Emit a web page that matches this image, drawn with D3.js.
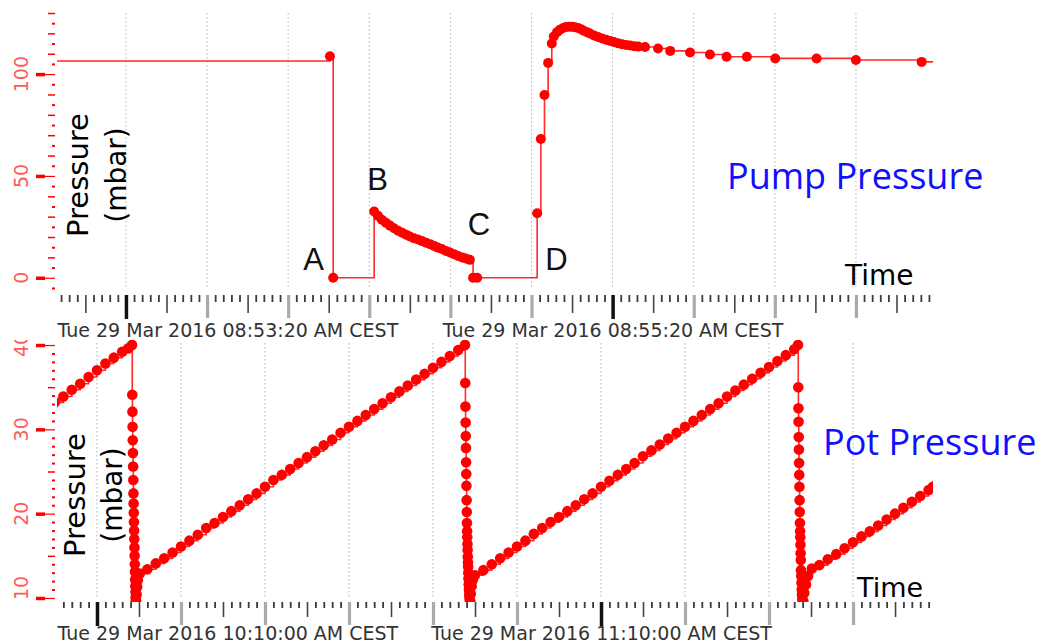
<!DOCTYPE html>
<html><head><meta charset="utf-8">
<script src="https://cdn.jsdelivr.net/npm/d3@7"></script>
<style>body{margin:0;background:#fff;} svg{display:block;}</style>
</head><body><svg id="chart" width="1041" height="644"></svg>
<script>
// ---------- DATA ----------
// Pump pressure: seconds after 08:53:00 (Tue 29 Mar 2016), value in mbar
const pumpSeconds = [0.0, 70.3, 71.1, 81.2, 82.1, 83.1, 84.1, 85.1, 86.1, 87.1, 88.1, 89.1, 90.0, 91.0, 92.0, 93.0, 94.0, 95.0, 96.0, 96.9, 97.9, 98.9, 99.9, 100.9, 101.9, 102.9, 103.8, 104.8, 105.6, 106.6,
  121.4, 122.3, 123.2, 124.1, 125.0, 125.5, 126.3, 127.0, 127.8, 128.5, 129.2, 130.0, 130.7, 131.5, 132.2, 132.9, 133.7, 134.4, 135.4, 136.4, 137.4, 138.4, 139.4, 140.3, 141.3, 142.3, 143.3, 144.3, 145.3, 146.3,
  148.0, 151.2, 154.2, 159.1, 164.0, 168.1, 173.1, 180.1, 190.3, 200.0, 216.2, 222.0];
const pumpValues = [106.4, 108.8, 0, 32.5, 30.5, 28.5, 27.0, 25.6, 24.3, 23.1, 22.1, 21.1, 20.3, 19.4, 18.8, 18.0, 17.2, 16.5, 15.6, 14.8, 14.1, 13.2, 12.4, 11.6, 10.7, 10.0, 9.5, 8.8, 0, 0,
  31.7, 68.1, 89.7, 105.5, 115.0, 118.5, 120.6, 121.8, 122.6, 123.1, 123.3, 123.2, 123.0, 122.6, 122.0, 121.3, 120.6, 119.9, 119.0, 118.2, 117.5, 116.9, 116.3, 115.8, 115.2, 114.7, 114.3, 114.0, 113.7, 113.5,
  113.3, 112.6, 111.4, 110.6, 109.6, 108.5, 108.5, 107.7, 107.7, 106.9, 106.0, 106.0];

// Pot pressure: minutes after 10:00:00 (Tue 29 Mar 2016), value in mbar
const potMinutes = [5.0, 6.0, 7.0, 8.0, 9.0, 10.0, 11.0, 12.0, 13.0, 13.7, 14.17,
  14.20, 14.22, 14.24, 14.26, 14.28, 14.30, 14.32, 14.34, 14.36, 14.38, 14.40, 14.42, 14.44, 14.46, 14.48, 14.50, 14.52, 14.54, 14.56, 14.58, 14.60, 14.62, 14.66, 14.72, 14.78, 14.86,
  15.1, 16, 17, 18, 19, 20, 21, 22, 23, 24, 25, 26, 27, 28, 29, 30, 31, 32, 33, 34, 35, 36, 37, 38, 39, 40, 41, 42, 43, 44, 45, 46, 47, 48, 49, 50, 51, 52, 53, 53.81,
  53.84, 53.86, 53.88, 53.90, 53.92, 53.94, 53.96, 53.98, 54.00, 54.02, 54.04, 54.06, 54.08, 54.10, 54.12, 54.14, 54.16, 54.18, 54.20, 54.22, 54.25, 54.28, 54.31, 54.34, 54.38, 54.44, 54.50, 54.60, 54.72,
  55, 56, 57, 58, 59, 60, 61, 62, 63, 64, 65, 66, 67, 68, 69, 70, 71, 72, 73, 74, 75, 76, 77, 78, 79, 80, 81, 82, 83, 84, 85, 86, 87, 88, 89, 90, 91, 92, 93, 93.45,
  93.48, 93.50, 93.52, 93.54, 93.56, 93.58, 93.60, 93.62, 93.64, 93.66, 93.68, 93.70, 93.72, 93.74, 93.76, 93.78, 93.80, 93.83, 93.86, 93.89, 93.92, 93.96, 94.00, 94.08, 94.20, 94.40, 94.65,
  95.1, 96, 97, 98, 99, 100, 101, 102, 103, 104, 105, 106, 107, 108, 109, 109.5, 110.0];
const potValues = [33.2, 33.9, 34.7, 35.4, 36.2, 37.0, 37.8, 38.5, 39.2, 39.6, 40.0,
  34.1, 32.1, 30.3, 28.7, 27.2, 25.6, 24.0, 22.4, 21.2, 20.1, 19.0, 18.0, 17.0, 16.0, 15.0, 14.0, 13.1, 12.2, 11.4, 10.7, 10.1, 9.7, 9.6, 10.4, 11.3, 12.1,
  12.9, 13.4, 14.1, 14.7, 15.4, 16.1, 16.8, 17.5, 18.3, 18.9, 19.6, 20.3, 21.0, 21.7, 22.4, 23.2, 24.0, 24.6, 25.3, 26.0, 26.7, 27.4, 28.1, 28.8, 29.6, 30.3, 31.0, 31.7, 32.4, 33.1, 33.8, 34.5, 35.2, 35.9, 36.6, 37.3, 38.0, 38.7, 39.4, 40.0,
  35.5, 32.7, 30.8, 29.2, 27.8, 26.1, 24.7, 23.3, 21.6, 20.2, 18.9, 17.9, 17.2, 16.4, 15.7, 14.9, 14.2, 13.7, 13.0, 12.3, 11.6, 11.0, 10.4, 10.0, 9.6, 9.6, 10.5, 11.4, 12.1,
  12.7, 13.3, 14.0, 14.7, 15.4, 16.1, 16.8, 17.6, 18.3, 19.0, 19.6, 20.3, 21.0, 21.7, 22.4, 23.2, 23.9, 24.6, 25.3, 26.0, 26.8, 27.5, 28.2, 28.9, 29.6, 30.3, 31.0, 31.7, 32.4, 33.1, 33.9, 34.6, 35.3, 36.0, 36.7, 37.4, 38.1, 38.8, 39.5, 40.0,
  35.0, 32.5, 30.9, 29.1, 27.6, 26.0, 24.6, 23.2, 21.6, 20.2, 18.9, 17.9, 17.2, 16.3, 15.3, 14.5, 13.3, 12.6, 11.8, 11.0, 10.4, 9.9, 9.6, 9.6, 10.6, 11.6, 12.6,
  13.5, 13.9, 14.6, 15.2, 15.9, 16.6, 17.3, 17.9, 18.6, 19.3, 20.0, 20.7, 21.4, 22.1, 22.8, 23.2, 23.5];

// Axis tick labels
const pumpYMajor = [0, 50, 100];
const potYMajor = [10, 20, 30, 40];
const pumpLabelTimes = ["08:53:20", "08:55:20"];
const potLabelTimes = ["10:10:00", "11:10:00"];

// Annotations on the pump curve (letter, seconds after 08:53:00, value)
const stepLetters = ["A", "B", "C", "D"];
const stepSeconds = [71.1, 81.2, 104.8, 121.4];
const stepValues = [0, 32.5, 8.8, 0];

// ---------- RENDER ----------
const DAY = Date.UTC(2016, 2, 29);
const pumpBase = DAY + (8 * 3600 + 53 * 60) * 1000;
const potBase = DAY + 10 * 3600 * 1000;
const parseHMS = s => { const [h, m, sec] = s.split(":").map(Number); return new Date(DAY + (h * 3600 + m * 60 + sec) * 1000); };
const fmt = d3.utcFormat("%a %d %b %Y %I:%M:%S %p");

const svg = d3.select("#chart");
svg.append("rect").attr("width", 1041).attr("height", 644).attr("fill", "#fff");

const X0 = 57, X1 = 933, YAX = 55;
const RED = "#ff0000";

function drawPanel(o) {
  const x = d3.scaleUtc().domain(o.xDomain).range([X0, X1]);
  const y = d3.scaleLinear().domain(o.yDomain).range([o.bottom, o.top]);
  const g = svg.append("g");

  const clipId = "clip" + o.id;
  svg.append("clipPath").attr("id", clipId).append("rect")
    .attr("x", X0).attr("y", o.clipTop).attr("width", X1 - X0).attr("height", o.clipBottom - o.clipTop);
  const lblClip = "lclip" + o.id;
  svg.append("clipPath").attr("id", lblClip).append("rect")
    .attr("x", 0).attr("y", o.clipTop).attr("width", 1041).attr("height", 644 - o.clipTop);

  // grid
  const majors = o.majorInt.range(o.xDomain[0], new Date(+o.xDomain[1] + 1));
  g.append("g").selectAll("line").data(majors).join("line")
    .attr("x1", d => x(d)).attr("x2", d => x(d)).attr("y1", o.top).attr("y2", o.bottom - 3)
    .attr("stroke", "#b4b4b4").attr("stroke-width", 1).attr("stroke-dasharray", "1.5,2.5");

  // x axis ticks
  const labelled = o.labelTimes.map(parseHMS);
  const isMajor = d => majors.some(m => +m === +d);
  const meds = o.medInt.range(o.xDomain[0], new Date(+o.xDomain[1] + 1)).filter(d => !isMajor(d));
  const isMed = d => meds.some(m => +m === +d);
  const mins = o.minInt.range(o.xDomain[0], new Date(+o.xDomain[1] + 1)).filter(d => !isMajor(d) && !isMed(d));
  const xa = g.append("g").attr("transform", `translate(0,${o.axisY})`);
  function xTicks(vals, size, color, width) {
    const a = xa.append("g").call(d3.axisBottom(x).tickValues(vals).tickSize(size).tickFormat(""));
    a.select(".domain").remove();
    a.selectAll(".tick line").attr("stroke", color).attr("stroke-width", width);
    return a;
  }
  xTicks(mins, o.minLen, "#3a3a3a", 1.8);
  xTicks(meds, o.medLen, "#444", 1.6);
  xTicks(majors.filter(d => !labelled.some(l => +l === +d)), o.majLen, "#aaaaaa", 3.2);
  xTicks(labelled, o.majLen + 1, "#111", 3.5);
  // labels
  const lab = xa.append("g").call(d3.axisBottom(x).tickValues(labelled).tickSize(0).tickPadding(0).tickFormat(d => fmt(d) + " CEST"));
  lab.select(".domain").remove();
  lab.selectAll(".tick text").attr("font-family", "DejaVu Sans").attr("font-size", 19).attr("fill", "#333")
    .attr("dy", 0).attr("y", o.labelDy).attr("text-anchor", "middle")
    .each(function(d) {
      const w = this.getComputedTextLength();
      const cx = x(d);
      if (cx - w / 2 < X0) d3.select(this).attr("x", X0 + w / 2 - cx);
    });

  // y axis
  const ya = g.append("g").attr("transform", `translate(${YAX},0)`);
  function yTicks(vals, size, width) {
    const a = ya.append("g").call(d3.axisLeft(y).tickValues(vals).tickSize(size).tickFormat(""));
    a.select(".domain").remove();
    a.selectAll(".tick line").attr("stroke", RED).attr("stroke-width", width);
    return a;
  }
  yTicks(o.yMinor, 3, 2);
  yTicks(o.yMed, 7, 1.5);
  const maj = yTicks(o.yMajor, 19, 1.2);
  maj.selectAll(".tick").append("line").attr("x1", -19).attr("x2", -10).attr("stroke", RED).attr("stroke-width", 3.5);
  const ylab = svg.append("g").attr("clip-path", `url(#${lblClip})`);
  ylab.selectAll("text").data(o.yMajor).join("text")
    .attr("font-family", "DejaVu Sans").attr("font-size", 19).attr("fill", "#ff5a5a")
    .attr("text-anchor", "middle").text(d => d)
    .attr("transform", function(d) {
      const w = this.getComputedTextLength();
      let cy = y(d);
      if (cy + w / 2 > o.bottom) cy = o.bottom - w / 2;
      return `translate(28,${cy}) rotate(-90)`;
    });

  // series
  const line = d3.line().x(d => x(d.t)).y(d => y(d.v)).curve(d3.curveStepAfter);
  const sg = svg.append("g").attr("clip-path", `url(#${clipId})`);
  sg.append("path").datum(o.data).attr("d", line).attr("fill", "none")
    .attr("stroke", "#ff2a2a").attr("stroke-width", 1.6);
  sg.append("g").selectAll("circle").data(o.data).join("circle")
    .attr("cx", d => x(d.t)).attr("cy", d => y(d.v)).attr("r", o.r).attr("fill", RED);

  // axis titles
  const at = svg.append("g").attr("font-family", "DejaVu Sans").attr("fill", "#000");
  at.append("text").attr("font-size", 29).attr("text-anchor", "middle")
    .attr("transform", `translate(${o.pressX},${o.titleCY}) rotate(-90)`).text("Pressure");
  at.append("text").attr("font-size", 28).attr("text-anchor", "middle")
    .attr("transform", `translate(${o.mbarX},${o.titleCY}) rotate(-90)`).text("(mbar)");
  at.append("text").attr("font-size", o.timeSize).attr("x", o.timeX).attr("y", o.timeY).text("Time");

  svg.append("text").attr("font-family", "Open Sans").attr("font-size", 36).attr("fill", "#1010ff")
    .attr("x", o.nameX).attr("y", o.nameY).text(o.name);
  return { x, y };
}

const pumpData = pumpSeconds.map((s, i) => ({ t: new Date(pumpBase + s * 1000), v: pumpValues[i] }));
const potData = potMinutes.map((m, i) => ({ t: new Date(potBase + m * 60000), v: potValues[i] }));

const pumpPanel = drawPanel({
  id: "top", data: pumpData,
  xDomain: [new Date(pumpBase + 3000), new Date(pumpBase + 219000)],
  yDomain: [-6.5, 130], top: 13, bottom: 291,
  clipTop: 0, clipBottom: 295,
  axisY: 295, minLen: 7, medLen: 18, majLen: 23, labelDy: 42,
  minInt: d3.utcSecond.every(2), medInt: d3.utcSecond.every(10), majorInt: d3.utcSecond.every(20),
  labelTimes: pumpLabelTimes,
  yMinor: d3.range(-5, 131, 10), yMed: d3.range(10, 131, 10).filter(v => v % 50 !== 0), yMajor: pumpYMajor,
  r: 5,
  pressX: 88, mbarX: 126, titleCY: 175, timeSize: 28, timeX: 845, timeY: 285,
  name: "Pump Pressure", nameX: 727, nameY: 189
});

const potPanel = drawPanel({
  id: "bot", data: potData,
  xDomain: [new Date(potBase + 5.24 * 60000), new Date(potBase + 109.52 * 60000)],
  yDomain: [9.76, 40.24], top: 343, bottom: 600,
  clipTop: 340, clipBottom: 602,
  axisY: 602, minLen: 6, medLen: 15, majLen: 23, labelDy: 38,
  minInt: d3.utcMinute.every(1), medInt: d3.utcMinute.every(5), majorInt: d3.utcMinute.every(10),
  labelTimes: potLabelTimes,
  yMinor: d3.range(11, 40).filter(v => v % 5 !== 0), yMed: [15, 25, 35], yMajor: potYMajor,
  r: 5.3,
  pressX: 85, mbarX: 122, titleCY: 495, timeSize: 27, timeX: 857, timeY: 597,
  name: "Pot Pressure", nameX: 823, nameY: 455
});

// step annotations
const annDx = [-30, -7, -2, 8], annDy = [-8, -22, -25, -8];
svg.append("g").selectAll("text").data(stepLetters).join("text")
  .attr("font-family", "Liberation Sans").attr("font-size", 31).attr("fill", "#111")
  .attr("x", (d, i) => pumpPanel.x(new Date(pumpBase + stepSeconds[i] * 1000)) + annDx[i])
  .attr("y", (d, i) => pumpPanel.y(stepValues[i]) + annDy[i])
  .text(d => d);
</script>
</body></html>
